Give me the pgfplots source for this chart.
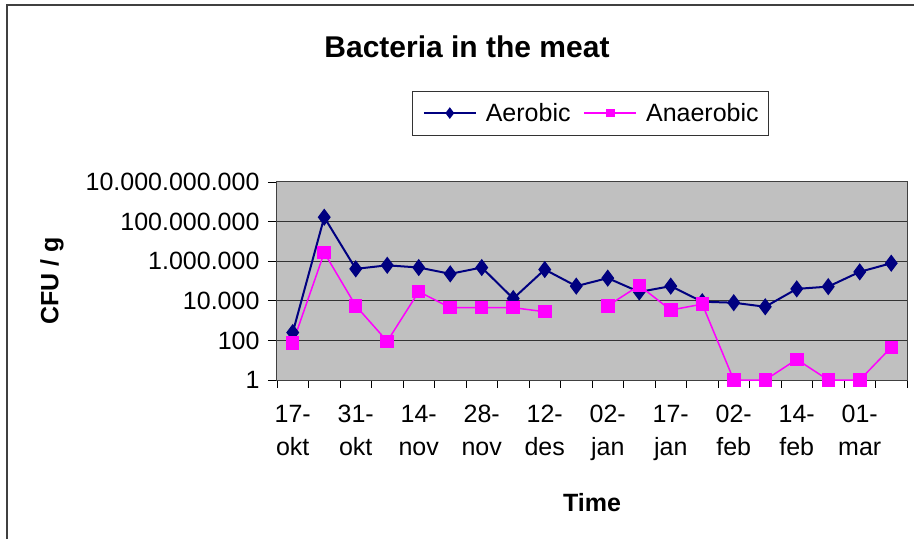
\documentclass[border=0pt]{standalone}
\usepackage{pgfplots}
\pgfplotsset{compat=1.18}
\usepackage{fontspec}
\setmainfont{Liberation Sans}
\definecolor{navyc}{HTML}{000080}
\definecolor{magc}{HTML}{FF00FF}
\definecolor{plotgray}{HTML}{C0C0C0}
\begin{document}
\begin{tikzpicture}
\useasboundingbox (0pt,0pt) rectangle (914pt,539pt);
\fill[white] (0pt,0pt) rectangle (914pt,539pt);
\draw[black!75, line width=1.5pt] (7pt,0pt) -- (7pt,534pt) -- (914pt,534pt);
\begin{axis}[
  at={(277pt,159pt)}, anchor=south west,
  scale only axis, width=630pt, height=198pt,
  clip=false,
  unbounded coords=jump,
  axis background/.style={fill=plotgray},
  ymode=log, ymin=1, ymax=1e10,
  xmin=-0.5, xmax=19.5,
  xtick={0,2,...,18},
  xticklabels={{17-\\okt},{31-\\okt},{14-\\nov},{28-\\nov},{12-\\des},{02-\\jan},{17-\\jan},{02-\\feb},{14-\\feb},{01-\\mar}},
  minor xtick={-0.5,0.5,...,19.5},
  ytick={1,100,1e4,1e6,1e8,1e10},
  yticklabels={1,100,10.000,1.000.000,100.000.000,10.000.000.000},
  minor ytick={},
  xtick pos=bottom, ytick pos=left,
  tick align=outside,
  major tick length=9pt,
  minor tick length=8pt,
  major x tick style={draw=none},
  minor x tick style={black, line width=0.8pt},
  major y tick style={black, line width=0.8pt},
  minor y tick style={draw=none},
  ymajorgrids,
  major grid style={black!80, line width=1pt},
  axis line style={black!75, line width=1pt},
  xticklabel style={align=center, font=\fontsize{25}{33}\selectfont, yshift=-13pt},
  yticklabel style={font=\fontsize{25}{30}\selectfont, xshift=-5pt},
  title={Bacteria in the meat},
  title style={font=\bfseries\fontsize{30}{36}\selectfont, at={(axis description cs:0.3016,1.655)}, anchor=center},
  xlabel={Time},
  xlabel style={font=\bfseries\fontsize{25}{30}\selectfont, at={(axis description cs:0.5,-0.62)}, anchor=center},
  ylabel={CFU / g},
  ylabel style={font=\bfseries\fontsize{25}{30}\selectfont, at={(axis description cs:-0.357,0.5)}, anchor=center},
  legend columns=-1,
  legend style={at={(axis description cs:0.498,1.348)}, anchor=center, draw=black!80, line width=0.8pt,
    font=\fontsize{25}{30}\selectfont, inner xsep=10pt, inner ysep=12pt,
    nodes={inner sep=0pt},
    /tikz/every odd column/.append style={column sep=9pt},
    /tikz/every even column/.append style={column sep=13pt}},
  legend image code/.code={\draw[mark repeat=2,mark phase=2,#1, every mark/.append style={scale=0.6}] plot coordinates {(0pt,0pt) (26pt,0pt) (52pt,0pt)};},
]
\addplot[navyc, line width=2pt, mark=diamond*, mark size=7pt, mark options={solid}] coordinates {
(0,250) (1,1.66e8) (2,4.1e5) (3,6.2e5) (4,4.8e5) (5,2.3e5) (6,4.8e5) (7,1.3e4) (8,3.8e5) (9,5.5e4)
(10,1.4e5) (11,2.8e4) (12,5.5e4) (13,9e3) (14,8e3) (15,5e3) (16,4e4) (17,5.2e4) (18,2.9e5) (19,7.9e5)
};
\addlegendentry{Aerobic}
\addplot[magc, line width=1.5pt, mark=square*, mark size=6pt, mark options={solid}] coordinates {
(0,74) (1,2.7e6) (2,5.6e3) (3,90) (4,2.9e4) (5,4.5e3) (6,4.5e3) (7,4.5e3) (8,2.8e3) (9,nan)
(10,5.6e3) (11,5.9e4) (12,3.4e3) (13,6.8e3) (14,1) (15,1) (16,11) (17,1) (18,1) (19,45)
};
\addlegendentry{Anaerobic}
\end{axis}
\end{tikzpicture}
\end{document}
